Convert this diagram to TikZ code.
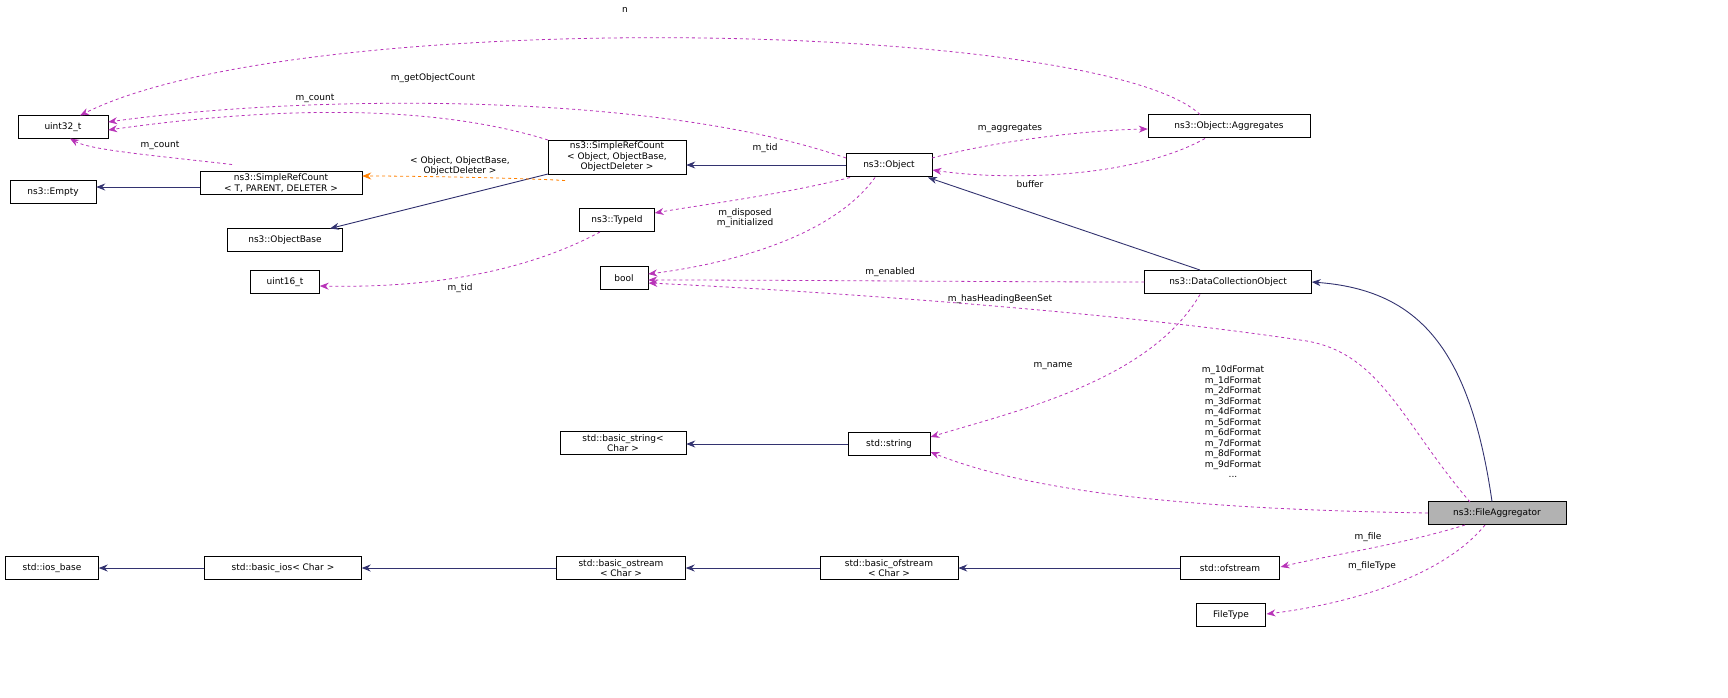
\documentclass[tikz,border=0pt]{standalone}
\usepackage{fontspec}
\setmainfont{DejaVu Sans}
\usetikzlibrary{arrows.meta}
\begin{document}
\begin{tikzpicture}[x=1pt,y=-1pt,
 box/.style={draw,fill=white,inner sep=2pt,minimum height=23pt,align=center,font=\fontsize{9}{10.5}\selectfont},
 lab/.style={font=\fontsize{9}{10.5}\selectfont,align=center,inner sep=1pt},
 inh/.style={draw=blue!30!black!80,line width=0.9pt,-{Stealth[length=9pt,width=7pt]}},
 use/.style={draw=violet!70!magenta!80,dashed,line width=0.8pt,-{Stealth[length=9pt,width=7pt]}},
 tmpl/.style={draw=orange,dashed,line width=0.8pt,-{Stealth[length=9pt,width=7pt]}}]
\node[box,minimum width=90pt] (u32) at (63,127) {uint32\_t};
\node[box,minimum width=86pt] (empty) at (53,192) {ns3::Empty};
\node[box,minimum width=162pt] (srct) at (281,183) {ns3::SimpleRefCount\\< T, PARENT, DELETER >};
\node[box,minimum width=115pt] (obase) at (285,240) {ns3::ObjectBase};
\node[box,minimum width=69pt] (u16) at (285,282) {uint16\_t};
\node[box,minimum width=138pt] (srco) at (617,157) {ns3::SimpleRefCount\\< Object, ObjectBase,\\ObjectDeleter >};
\node[box,minimum width=75pt] (tid) at (617,220) {ns3::TypeId};
\node[box,minimum width=48pt] (bool) at (624,278) {bool};
\node[box,minimum width=86pt] (obj) at (889,165) {ns3::Object};
\node[box,minimum width=162pt] (agg) at (1229,126) {ns3::Object::Aggregates};
\node[box,minimum width=167pt] (dco) at (1228,282) {ns3::DataCollectionObject};
\node[box,minimum width=126pt] (bstr) at (623,443) {std::basic\_string<\\Char >};
\node[box,minimum width=82pt] (str) at (889,444) {std::string};
\node[box,minimum width=138pt,fill=black!30] (fa) at (1497,513) {ns3::FileAggregator};
\node[box,minimum width=93pt] (iosb) at (52,568) {std::ios\_base};
\node[box,minimum width=157pt] (bios) at (283,568) {std::basic\_ios< Char >};
\node[box,minimum width=129pt] (bos) at (621,568) {std::basic\_ostream\\< Char >};
\node[box,minimum width=138pt] (bofs) at (889,568) {std::basic\_ofstream\\< Char >};
\node[box,minimum width=99pt] (ofs) at (1230,568) {std::ofstream};
\node[box,minimum width=69pt] (ftype) at (1231,615) {FileType};
% inheritance
\draw[inh] (srct.west |- 0,187) -- (empty.east |- 0,187);
\draw[inh] (srco.south west) -- (330,228.5);
\draw[inh] (obj.west) -- (srco.east |- obj.west);
\draw[inh] (1200,270) -- (928,177.5);
\draw[inh] (1492,501.5) .. controls (1470,350) and (1420,290) .. (dco.east);
\draw[inh] (str.west) -- (bstr.east |- str.west);
\draw[inh] (ofs.west) -- (bofs.east);
\draw[inh] (bofs.west) -- (bos.east);
\draw[inh] (bos.west) -- (bios.east);
\draw[inh] (bios.west) -- (iosb.east);
% template
\draw[tmpl] (565,180.5) .. controls (520,178) and (420,176) .. (srct.east |- 0,176);
\node[lab] at (460,166) {< Object, ObjectBase,\\ObjectDeleter >};
% usage
\draw[use] (1200,114.5) .. controls (1100,20) and (300,5) .. (80,115.5);
\node[lab] at (625,10) {n};
\draw[use] (846,158) .. controls (650,90) and (300,95) .. (u32.east |- 0,122);
\node[lab] at (433,78) {m\_getObjectCount};
\draw[use] (548,140) .. controls (420,100) and (250,110) .. (u32.east |- 0,130);
\node[lab] at (315,98) {m\_count};
\draw[use] (232,164.5) .. controls (150,155) and (90,150) .. (70,138.5);
\node[lab] at (160,145) {m\_count};
\draw[use] (932,158) .. controls (1000,140) and (1090,130) .. (agg.west |- 0,129);
\node[lab] at (1010,128) {m\_aggregates};
\draw[use] (1205,138.5) .. controls (1130,180) and (1000,180) .. (932.5,170);
\node[lab] at (1030,184) {buffer};
\draw[use] (850,177.5) .. controls (780,195) and (700,205) .. (tid.east |- 0,213);
\node[lab] at (765,148) {m\_tid};
\draw[use] (875,177.5) .. controls (830,240) and (720,265) .. (bool.east |- 0,274);
\node[lab] at (745,218) {m\_disposed\\m\_initialized};
\draw[use] (600,232) .. controls (520,275) and (420,288) .. (u16.east |- 0,286);
\node[lab] at (460,288) {m\_tid};
\draw[use] (dco.west) .. controls (1000,282) and (800,280) .. (bool.east |- 0,280);
\node[lab] at (890,272) {m\_enabled};
\draw[use] (1470,502) .. controls (1400,420) and (1380,350) .. (1300,340) .. controls (1100,310) and (800,290) .. (648.5,283);
\node[lab] at (1000,299) {m\_hasHeadingBeenSet};
\draw[use] (1200,294.5) .. controls (1150,380) and (1020,410) .. (930.5,437);
\node[lab] at (1053,366) {m\_name};
\draw[use] (fa.west) .. controls (1250,510) and (1050,500) .. (930.5,452);
\node[lab] at (1233,422) {m\_10dFormat\\m\_1dFormat\\m\_2dFormat\\m\_3dFormat\\m\_4dFormat\\m\_5dFormat\\m\_6dFormat\\m\_7dFormat\\m\_8dFormat\\m\_9dFormat\\...};
\draw[use] (1465,525) .. controls (1400,545) and (1330,555) .. (1280.5,567);
\node[lab] at (1368,537) {m\_file};
\draw[use] (1485,525) .. controls (1440,580) and (1340,605) .. (1266.5,614);
\node[lab] at (1372,566) {m\_fileType};
\pgfresetboundingbox
\useasboundingbox (0,0) rectangle (1728,697);
\end{tikzpicture}
\end{document}
